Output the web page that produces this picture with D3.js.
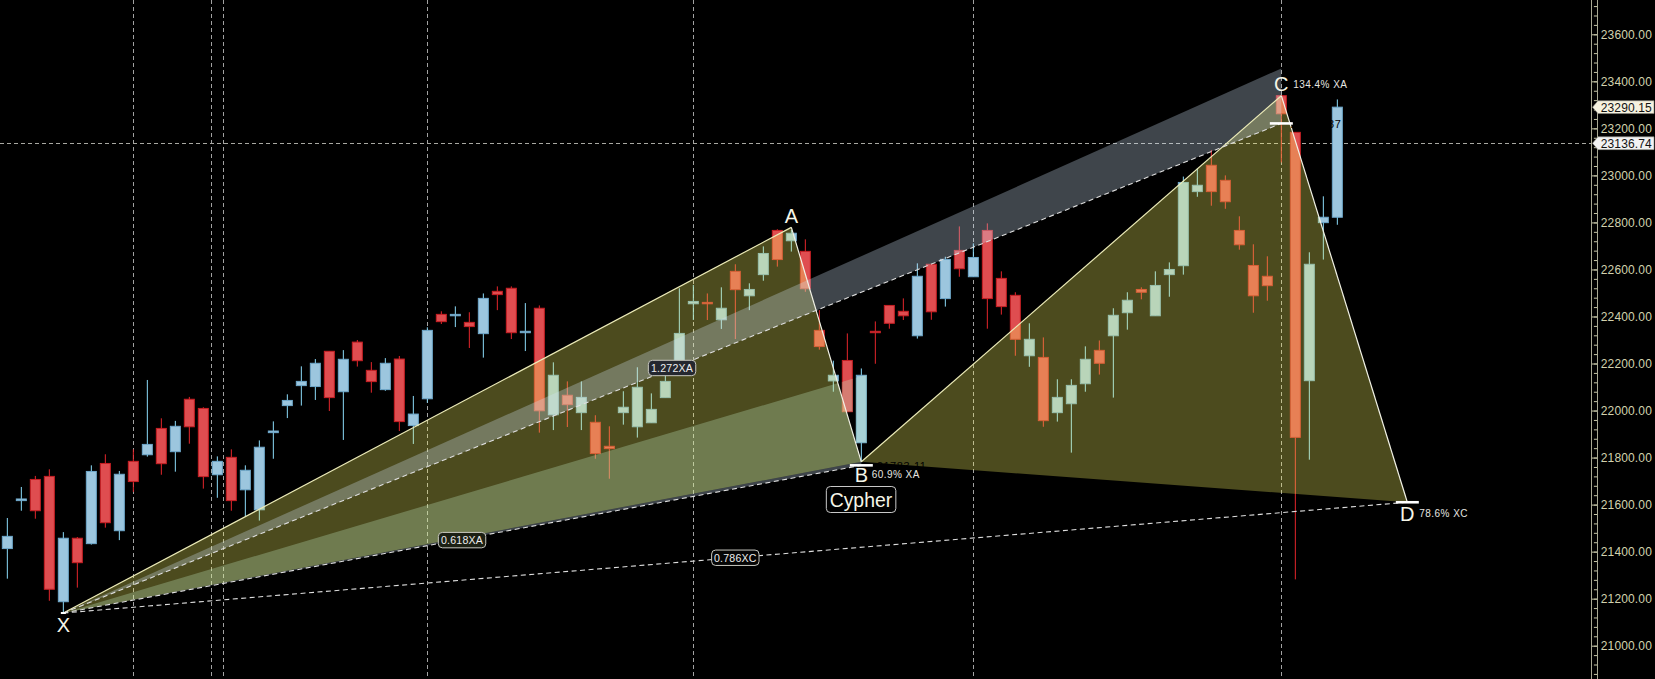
<!DOCTYPE html>
<html><head><meta charset="utf-8">
<script src="https://cdn.jsdelivr.net/npm/d3@7/dist/d3.min.js"></script>
<style>
html,body{margin:0;padding:0;background:#000;overflow:hidden}
svg{display:block}
text{font-family:"Liberation Sans",Arial,sans-serif}
</style></head><body>
<svg id="c" width="1655" height="679"></svg>
<script>
const highs=[21543,21675,21722,21750,21483,21462,21767,21814,21743,21835,
22130,21967,21956,22058,22014,21805,21835,21767,21873,21954,
22069,22188,22219,22252,22257,22300,22206,22223,22232,22062,
22354,22422,22443,22418,22498,22528,22528,22457,22447,22205,
22124,22124,21980,21933,22082,22184,22073,22186,22520,22534,
22498,22524,22622,22541,22698,22771,22768,22728,22427,22212,
22328,22179,22379,22447,22477,22626,22622,22654,22783,22711,
22796,22592,22503,22371,22311,22133,22133,22273,22298,22435,
22503,22524,22592,22630,22995,23030,23108,23000,22826,22707,
22656,23339,23183,22673,22911,23323];
const lows=[21285,21574,21540,21191,21138,21247,21430,21502,21449,21654,
21804,21727,21740,21859,21668,21629,21574,21549,21532,21795,
21968,22021,22045,21998,21875,22187,22076,22084,21913,21858,
22033,22368,22355,22266,22225,22427,22304,22253,21906,21917,
21930,21917,21795,21710,21940,21885,21948,22055,22201,22385,
22385,22347,22304,22427,22552,22612,22676,22505,22259,22080,
21995,21783,22199,22348,22385,22306,22386,22442,22569,22569,
22348,22408,22233,22186,21931,21953,21821,22080,22153,22055,
22344,22473,22403,22484,22578,22909,22871,22858,22684,22416,
22467,23055,21282,21791,22642,22790];
const opens=[21413,21617,21707,21720,21187,21457,21434,21775,21489,21784,
21812,21924,21825,22048,22009,21727,21801,21663,21578,21906,
22021,22106,22102,22252,22080,22291,22171,22089,22219,21936,
22050,22409,22403,22375,22327,22507,22520,22331,22435,21982,
22065,21991,21950,21848,21991,21931,21948,22055,22201,22454,
22460,22386,22592,22488,22578,22766,22722,22677,22341,22126,
22213,21863,22337,22447,22422,22318,22622,22476,22681,22569,
22766,22562,22490,22233,22226,21991,22029,22114,22256,22318,
22416,22515,22403,22578,22616,22931,23043,22979,22766,22617,
22571,23339,23183,22127,22799,22822];
const closes=[21465,21624,21574,21240,21457,21353,21741,21523,21729,21698,
21856,21774,21933,21931,21719,21784,21617,21746,21844,21913,
22043,22124,22201,22055,22218,22212,22123,22201,21953,21985,
22341,22378,22409,22357,22477,22493,22331,22337,21999,22150,
22025,22056,21817,21838,22014,22099,22005,22124,22328,22464,
22454,22435,22514,22515,22668,22642,22754,22518,22272,22150,
21995,22150,22331,22371,22403,22571,22420,22643,22603,22651,
22476,22442,22303,22303,21957,22056,22107,22218,22201,22405,
22469,22503,22532,22600,22970,22958,22931,22888,22705,22488,
22531,23262,21886,22622,22822,23290.15];
const separators=[9,14.57,15.43,30,49,69,91];
const axisTicks=[21000,21200,21400,21600,21800,22000,22200,22400,22600,22800,23000,23200,23400,23600];
const minorTicks=d3.range(20880,23800,40);
const ptX=[4,21139],ptA=[56,22779],ptB=[61,21782],ptC=[91,23339],ptD=[100,21610];
const band127Top=[91,23455],band127Bottom=[91,23221];
const band618Top=[61.4,22153],band618Right=[61.4,21782];
const bandSliver=[61,21767];
const lastPrice=23290.15,crossPrice=23136.74;
const pointNames=["X","A","B","C","D"];
const ratioTexts=["134.4% XA","60.9% XA","78.6% XC"];
const pillTexts=["1.272XA","0.618XA","0.786XC"];
const pillBars=[47.48,32.48,52];
const pillPrices=[22181,21449,21374];
const hiddenPrices=["21783.11","23221.37"];

const svg=d3.select("#c");
const x=d3.scaleLinear().domain([0,95]).range([7.33,1337.33]);
const y=d3.scaleLinear().domain([23600,21000]).range([34.3,645.7]);
const P=p=>[x(p[0]),y(p[1])];
const poly=a=>a.map(P).map(q=>q.join(",")).join(" ");
const line=d3.line().x(d=>x(d[0])).y(d=>y(d[1]));

svg.append("rect").attr("width",1655).attr("height",679).attr("fill","#000");

// separators
svg.append("g").selectAll("line").data(separators).join("line")
  .attr("x1",d=>Math.round(x(d))+.5).attr("x2",d=>Math.round(x(d))+.5)
  .attr("y1",0).attr("y2",679).attr("stroke","#a2a2a2").attr("stroke-dasharray","4 3");
// crosshair
svg.append("line").attr("x1",0).attr("x2",1591).attr("y1",Math.round(y(crossPrice))+.5).attr("y2",Math.round(y(crossPrice))+.5)
  .attr("stroke","#a8a8a2").attr("stroke-dasharray","4 3");

// candles
const idx=d3.range(highs.length);
const isUp=i=>closes[i]>=opens[i];
const cg=svg.append("g");
cg.selectAll("line").data(idx).join("line")
  .attr("x1",i=>x(i)).attr("x2",i=>x(i)).attr("y1",i=>y(highs[i])).attr("y2",i=>y(lows[i]))
  .attr("stroke",i=>isUp(i)?"#8cdcfa":"#e6262c").attr("stroke-width",1);
const bodyY=i=>y(Math.max(opens[i],closes[i]));
const bodyH=i=>Math.max(1,Math.abs(y(opens[i])-y(closes[i])));
cg.selectAll("rect").data(idx).join("rect")
  .attr("x",i=>x(i)-5).attr("width",10).attr("y",bodyY).attr("height",bodyH)
  .attr("fill",i=>isUp(i)?"#9cc6de":"#df4d50")
  .attr("stroke",i=>isUp(i)?"#6fa9cc":"#c81f24").attr("stroke-width",1);

// clip: lower band only shows inside XAB and over the candle bodies it crosses
const defs=svg.append("defs");
const cp=defs.append("clipPath").attr("id","lowband");
cp.append("polygon").attr("points",poly([ptX,ptA,ptB]));
cp.selectAll("rect").data([59,60,61]).join("rect")
  .attr("x",i=>x(i)-5.5).attr("width",11).attr("y",bodyY).attr("height",bodyH);

const olive="rgba(253,247,100,.3)";
svg.append("polygon").attr("points",poly([ptX,ptA,ptB])).attr("fill",olive);
svg.append("polygon").attr("points",poly([ptB,ptC,ptD])).attr("fill",olive);
svg.append("polygon").attr("points",poly([ptX,band127Top,band127Bottom])).attr("fill","rgba(207,227,250,.3)");
svg.append("polygon").attr("points",poly([ptX,band618Top,band618Right])).attr("fill","rgba(193,234,197,.3)").attr("clip-path","url(#lowband)");
svg.append("polygon").attr("points",poly([ptX,ptB,bandSliver])).attr("fill","rgba(207,227,250,.3)");

// pattern lines
[[ptX,ptA,"#ecebb8"],[ptB,ptC,"#ecebb8"],[ptA,ptB,"#f2f2e6"],[ptC,ptD,"#f2f2e6"]].forEach(s=>{
  svg.append("path").attr("d",line([s[0],s[1]])).attr("stroke",s[2]).attr("stroke-width",1.2).attr("fill","none");
});
[[ptX,band127Bottom],[ptX,bandSliver],[ptX,ptD]].forEach(s=>{
  svg.append("path").attr("d",line(s)).attr("stroke","#dedede").attr("stroke-width",1.1)
    .attr("stroke-dasharray","5 3.5").attr("fill","none");
});

// level ticks
[[band127Bottom[0],band127Bottom[1]],[ptD[0],ptD[1]],[ptB[0],bandSliver[1]]].forEach(t=>{
  svg.append("line").attr("x1",x(t[0])-11.5).attr("x2",x(t[0])+11.5).attr("y1",y(t[1])).attr("y2",y(t[1]))
    .attr("stroke","#fff").attr("stroke-width",2.6);
});
svg.append("line").attr("x1",x(ptX[0])-2.5).attr("x2",x(ptX[0])+2.5).attr("y1",y(ptX[1])).attr("y2",y(ptX[1])).attr("stroke","#fff").attr("stroke-width",2);

// hidden dark prices
svg.append("text").attr("x",876.7).attr("y",y(ptB[1])+8.5).attr("font-size",11).attr("letter-spacing",.6).attr("fill","#000").text(hiddenPrices[0]);
svg.append("text").attr("x",1341.5).attr("y",y(band127Bottom[1])+4.5).attr("text-anchor","end").attr("font-size",11).attr("letter-spacing",.6).attr("fill","#000").text(hiddenPrices[1]);

// point letters
const letterOff=[12,-11.5,13.3,-11.7,11.7];
[ptX,ptA,ptB,ptC,ptD].forEach((p,i)=>{
  svg.append("text").attr("x",x(p[0])).attr("y",y(p[1])+letterOff[i]+7.3).attr("text-anchor","middle")
    .attr("font-size",20).attr("fill","#f6f6e8").text(pointNames[i]);
});
[[ptC,12,-7.7],[ptB,10.4,16],[ptD,12,14.4]].forEach((l,i)=>{
  svg.append("text").attr("x",x(l[0][0])+l[1]).attr("y",y(l[0][1])+l[2]).attr("font-size",10)
    .attr("letter-spacing",.45).attr("fill","#e6e6e0").text(ratioTexts[i]);
});

// Cypher badge
const cx=x(ptB[0]);
svg.append("rect").attr("x",cx-35).attr("y",486.5).attr("width",69.5).attr("height",26).attr("rx",4)
  .attr("fill","#000").attr("stroke","#c8c8c8");
svg.append("text").attr("x",cx-.4).attr("y",506.5).attr("text-anchor","middle").attr("font-size",19.4).attr("fill","#f6f6e8").text("Cypher");

// ratio pills
pillTexts.forEach((t,i)=>{
  const px=x(pillBars[i]),py=y(pillPrices[i]);
  svg.append("rect").attr("x",px-23.7).attr("y",py-7.7).attr("width",47.4).attr("height",15.4).attr("rx",4)
    .attr("fill",i==0?"#24272f":(i==1?"#1c2014":"#050505")).attr("stroke","#c8c8c0");
  svg.append("text").attr("x",px).attr("y",py+3.9).attr("text-anchor","middle").attr("font-size",10.6)
    .attr("letter-spacing",.2).attr("fill","#ececec").text(t);
});

// axis
const ax=svg.append("g").attr("transform","translate(1591.5,0)")
  .call(d3.axisRight(y).tickValues(axisTicks).tickSize(5.7).tickPadding(3.6).tickFormat(d3.format(".2f")));
ax.select(".domain").remove();
ax.selectAll("line").attr("stroke","#c8c8a8");
ax.selectAll("text").attr("font-size",12).attr("letter-spacing",.14).attr("fill","#d2d2ae").attr("font-family","Liberation Sans");
const minorAx=svg.append("g").attr("transform","translate(1597.5,0)")
  .call(d3.axisLeft(y).tickValues(minorTicks).tickSize(3.6).tickFormat(""));
minorAx.select(".domain").remove();
minorAx.selectAll("line").attr("stroke","#c8c8a8");
[1591.5,1597.5].forEach(a=>svg.append("line").attr("x1",a).attr("x2",a).attr("y1",0).attr("y2",679).attr("stroke","#a8a892"));

// price tags
[[lastPrice,"#f6f2df"],[crossPrice,"#f2f2f2"]].forEach(t=>{
  const py=y(t[0]);
  svg.append("polygon").attr("points",[[1592.5,py],[1598,py-6.4],[1654,py-6.4],[1654,py+6.4],[1598,py+6.4]].map(q=>q.join(",")).join(" "))
    .attr("fill",t[1]).attr("stroke","#8a8a80").attr("stroke-width",.6);
  svg.append("text").attr("x",1600.7).attr("y",py+4.4).attr("font-size",12).attr("letter-spacing",.14).attr("fill","#111").text(t[0].toFixed(2));
});
</script></body></html>
